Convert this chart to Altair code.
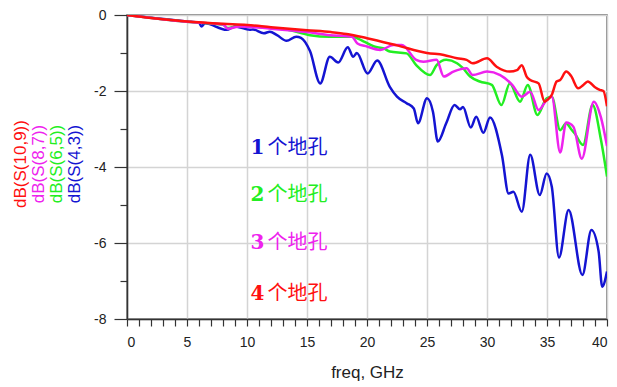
import altair as alt
import pandas as pd

# ---- data ----
red_f = [0, 2, 5, 8, 10, 12, 15, 17, 18.3, 20, 22.5, 25, 26.4, 27.5, 28.3, 28.8, 30, 30.8, 31.9, 32.5,
         32.9, 33.3, 33.6, 34.3, 34.8, 35.0, 35.4, 35.8, 36.1, 36.6, 37.0, 37.6, 38.0, 38.4, 39.0, 39.4, 39.7, 40]
red_db = [0, -0.08, -0.17, -0.23, -0.26, -0.32, -0.40, -0.45, -0.5, -0.61, -0.8, -1.0, -1.05, -1.14, -1.18, -1.27,
          -1.14, -1.36, -1.49, -1.45, -1.32, -1.62, -1.71, -1.8, -2.28, -2.24, -2.1, -1.75, -1.71, -1.49, -1.6,
          -1.93, -1.85, -1.75, -1.9, -1.97, -2.0, -2.4]

green_f = [0, 5, 8, 8.4, 9.4, 12, 13.3, 15.25, 16.9, 18.75, 19.75, 20.6, 21.4, 21.9, 23.3, 24.1, 25.25, 25.8,
           26.6, 27.5, 28.0, 28.6, 29.4, 30.4, 31.2, 31.9, 32.75, 33.4, 34.2, 34.97, 35.4, 36.1, 36.6, 37.0,
           37.3, 38.0, 38.8, 39.5, 40]
green_db = [0, -0.18, -0.26, -0.34, -0.29, -0.34, -0.38, -0.53, -0.57, -0.57, -0.7, -0.83, -0.88, -0.96, -1.01,
            -1.32, -1.58, -1.32, -1.18, -1.27, -1.4, -1.62, -1.75, -1.84, -2.37, -1.8, -2.28, -1.84, -2.63, -2.19,
            -2.15, -3.03, -2.85, -3.0, -3.11, -3.42, -2.37, -3.29, -4.25]

magenta_f = [0, 5, 8, 8.4, 9.4, 12, 15, 16.9, 18.75, 19.2, 20, 21.1, 22.2, 22.9, 24.1, 24.7, 25.8, 26.4, 27.2,
             28.3, 28.8, 30, 31.1, 32.1, 32.9, 33.6, 34.3, 34.97, 35.4, 36.1, 36.6, 37.2, 37.9, 38.9, 39.5, 40]
magenta_db = [0, -0.18, -0.25, -0.36, -0.3, -0.36, -0.45, -0.53, -0.57, -0.75, -0.83, -0.92, -0.79, -0.79, -1.18,
              -1.23, -1.18, -1.62, -1.49, -1.4, -1.58, -1.49, -1.58, -1.84, -2.15, -2.02, -2.5, -2.24, -2.15,
              -3.62, -2.83, -2.94, -3.78, -2.28, -2.7, -3.45]

blue_f = [0, 5, 6.0, 6.2, 6.5, 8.3, 9, 10.25, 10.5, 11.4, 11.9, 12.5, 13.3, 14.1, 14.5, 15.25, 16.1, 16.9,
          17.6, 18.4, 18.85, 19.15, 20.05, 20.85, 21.9, 22.5, 23.3, 23.9, 24.25, 25.0, 25.5, 25.9, 26.6, 27.3,
          27.75, 28.0, 28.65, 29.1, 29.7, 30.25, 31.25, 31.8, 32.2, 32.9, 33.6, 34.4, 34.97, 35.4, 36.0, 36.8,
          37.95, 38.7, 39.3, 39.6, 40]
blue_db = [0, -0.17, -0.2, -0.3, -0.22, -0.39, -0.3, -0.39, -0.38, -0.48, -0.44, -0.53, -0.68, -0.57, -0.6,
           -0.95, -1.8, -1.1, -1.25, -0.85, -1.1, -1.0, -1.54, -1.2, -1.89, -2.15, -2.32, -2.46, -2.85, -2.19,
           -2.55, -3.33, -2.85, -2.37, -2.48, -2.42, -2.96, -2.68, -3.1, -2.7, -3.7, -4.7, -4.65, -5.18, -3.68,
           -4.74, -4.17, -4.52, -6.38, -5.13, -6.84, -5.66, -6.22, -7.15, -6.75]

series_names = ["dB(S(4,3))", "dB(S(6,5))", "dB(S(8,7))", "dB(S(10,9))"]
series_colors = ["#1414d2", "#22ee22", "#ee22ee", "#ff1010"]
label_nums = ["1", "2", "3", "4"]
label_words = ["个地孔", "个地孔", "个地孔", "个地孔"]
label_f = [10.3, 10.3, 10.3, 10.3]
label_db = [-3.5, -4.74, -6.0, -7.34]

x_ticks = list(range(0, 41))
y_ticks = list(range(-8, 1))

# ---- build ----
curves = [(blue_f, blue_db), (green_f, green_db), (magenta_f, magenta_db), (red_f, red_db)]

x_axis = alt.Axis(
    values=x_ticks,
    tickCount=len(x_ticks),
    labelOverlap=False,
    labelExpr="datum.value % 5 === 0 ? datum.label : ''",
    title="freq, GHz",
    tickSize=7,
    labelPadding=9,
    titlePadding=15,
    gridOpacity={"condition": {"test": "datum.value % 5 === 0", "value": 1}, "value": 0},
)
y_axis = alt.Axis(
    values=y_ticks,
    tickCount=len(y_ticks),
    labelOverlap=False,
    labelExpr="datum.value % 2 === 0 ? toString(datum.value) : ''",
    title=None,
    tickSize={"condition": {"test": "datum.value % 2 === 0", "value": 13}, "value": 7},
    labelPadding=8,
    gridOpacity={"condition": {"test": "datum.value % 2 === 0", "value": 1}, "value": 0},
)

xs = alt.Scale(domain=[0, 40], nice=False, zero=False)
ys = alt.Scale(domain=[-8, 0], nice=False, zero=False)

layers = []
for (fv, dv), name, col in zip(curves, series_names, series_colors):
    df = pd.DataFrame({"f": fv, "dB": dv})
    layers.append(
        alt.Chart(df).mark_line(color=col, strokeWidth=2.5, interpolate="monotone", clip=True).encode(
            x=alt.X("f:Q", scale=xs, axis=x_axis),
            y=alt.Y("dB:Q", scale=ys, axis=y_axis),
        )
    )

lab_df = pd.DataFrame({"n": label_nums, "w": label_words, "f": label_f, "dB": label_db, "c": series_colors})
nums = alt.Chart(lab_df).mark_text(
    align="left", baseline="middle", fontSize=20, fontWeight="bold", font="DejaVu Serif",
).encode(
    x=alt.X("f:Q", scale=xs), y=alt.Y("dB:Q", scale=ys),
    text="n:N", color=alt.Color("c:N", scale=None),
)
words = alt.Chart(lab_df).mark_text(
    align="left", baseline="middle", fontSize=20, fontWeight="normal", font="Noto Sans CJK SC", dx=17,
).encode(
    x=alt.X("f:Q", scale=xs), y=alt.Y("dB:Q", scale=ys),
    text="w:N", color=alt.Color("c:N", scale=None),
)
layers += [nums, words]

# stacked coloured y-axis titles (red leftmost)
title_x = [-106, -88, -70, -52]
for name, col, xp in zip(series_names[::-1], series_colors[::-1], title_x):
    layers.append(
        alt.Chart(pd.DataFrame({"t": [name]})).mark_text(
            angle=270, fontSize=17, font="Liberation Sans", color=col,
            align="center", baseline="middle",
        ).encode(x=alt.value(xp), y=alt.value(149), text="t:N")
    )

chart = alt.layer(*layers).properties(
    width=480, height=304,
    autosize=alt.AutoSizeParams(type="none"),
    padding={"left": 119, "top": 7, "right": 2, "bottom": 66},
).configure_view(
    stroke="#666666", strokeWidth=1.5,
).configure_axis(
    labelFont="Liberation Sans", labelFontSize=14, labelColor="#222222",
    titleFont="Liberation Sans", titleFontSize=17, titleColor="#222222", titleFontWeight="normal",
    domainColor="#333333", domainWidth=1.5, tickColor="#333333", tickWidth=1.2,
    gridColor="#d4d4d4", gridWidth=1.5,
)

chart.save("out.html", embed_options={"renderer": "svg", "actions": False})
